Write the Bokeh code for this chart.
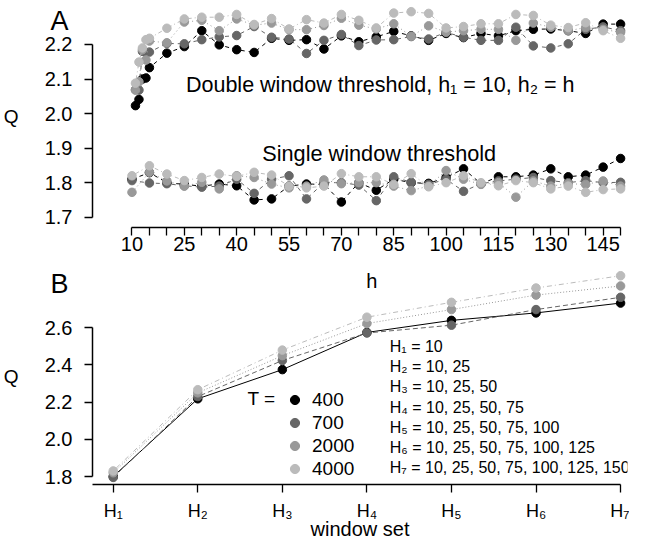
from bokeh.plotting import figure
from bokeh.models import (FixedTicker, Label, Legend, LegendItem, ColumnDataSource,
                          PrintfTickFormatter, LinearAxis)
from bokeh.layouts import column
from bokeh.embed import file_html
from bokeh.resources import INLINE
from bokeh.core.properties import value

FONT = "Liberation Sans"

# ---------------- data ----------------
T_labels = ["400", "700", "2000", "4000"]
series_colors = ["#000000", "#666666", "#999999", "#bbbbbb"]
dashes_A = ["4 4", "4 4", "1 3", "1 3 4 3"]
dashes_B = ["solid", "5 3", "1 2", "1 3 5 3"]

# Panel A: single window threshold, h = 10..150
h_single = [10, 15, 20, 25, 30, 35, 40, 45, 50, 55, 60, 65, 70, 75, 80,
            85, 90, 95, 100, 105, 110, 115, 120, 125, 130, 135, 140, 145, 150]
q_single_400 = [1.810, 1.829, 1.800, 1.795, 1.790, 1.796, 1.791, 1.750, 1.753, 1.790,
                1.796, 1.795, 1.744, 1.800, 1.778, 1.810, 1.800, 1.798, 1.815, 1.840,
                1.797, 1.817, 1.817, 1.822, 1.840, 1.817, 1.822, 1.845, 1.870]
q_single_700 = [1.806, 1.799, 1.797, 1.791, 1.787, 1.790, 1.810, 1.769, 1.810, 1.820,
                1.753, 1.800, 1.800, 1.793, 1.748, 1.817, 1.801, 1.795, 1.810, 1.775,
                1.797, 1.805, 1.810, 1.815, 1.806, 1.800, 1.806, 1.800, 1.801]
q_single_2000 = [1.772, 1.830, 1.805, 1.790, 1.801, 1.782, 1.820, 1.815, 1.796, 1.785,
                 1.790, 1.808, 1.797, 1.800, 1.800, 1.790, 1.777, 1.790, 1.835, 1.810,
                 1.795, 1.800, 1.758, 1.805, 1.790, 1.797, 1.795, 1.805, 1.790]
q_single_4000 = [1.820, 1.849, 1.825, 1.806, 1.815, 1.825, 1.818, 1.830, 1.822, 1.790,
                 1.785, 1.790, 1.826, 1.817, 1.817, 1.795, 1.826, 1.788, 1.800, 1.820,
                 1.800, 1.791, 1.806, 1.800, 1.782, 1.790, 1.772, 1.780, 1.782]

# Panel A: double window threshold, h1 = 10, h2 = h
h_double = [11, 12, 13, 14, 15, 20, 25, 30, 35, 40, 45, 50, 55, 60, 65, 70,
            75, 80, 85, 90, 95, 100, 105, 110, 115, 120, 125, 130, 135, 140, 145, 150]
q_double_400 = [2.023, 2.041, 2.100, 2.103, 2.133, 2.175, 2.194, 2.240, 2.199, 2.185,
                2.177, 2.218, 2.212, 2.214, 2.187, 2.225, 2.208, 2.222, 2.238, 2.225,
                2.212, 2.232, 2.220, 2.232, 2.225, 2.240, 2.244, 2.245, 2.240, 2.232,
                2.259, 2.259]
q_double_700 = [2.069, 2.068, 2.180, 2.176, 2.178, 2.203, 2.202, 2.214, 2.222, 2.226,
                2.252, 2.221, 2.216, 2.174, 2.212, 2.229, 2.197, 2.213, 2.214, 2.223,
                2.216, 2.235, 2.221, 2.212, 2.212, 2.250, 2.196, 2.190, 2.202, 2.244,
                2.251, 2.240]
q_double_2000 = [2.068, 2.092, 2.185, 2.155, 2.210, 2.205, 2.265, 2.270, 2.240, 2.274,
                 2.256, 2.262, 2.243, 2.243, 2.255, 2.276, 2.256, 2.245, 2.260, 2.224,
                 2.254, 2.236, 2.240, 2.244, 2.244, 2.212, 2.262, 2.250, 2.240, 2.249,
                 2.244, 2.235]
q_double_4000 = [2.088, 2.149, 2.190, 2.214, 2.218, 2.247, 2.274, 2.279, 2.279, 2.287,
                 2.258, 2.275, 2.245, 2.272, 2.262, 2.287, 2.270, 2.248, 2.291, 2.295,
                 2.290, 2.248, 2.252, 2.260, 2.260, 2.287, 2.284, 2.256, 2.249, 2.263,
                 2.240, 2.218]

h_ticks = [10, 15, 20, 25, 30, 35, 40, 45, 50, 55, 60, 65, 70, 75, 80,
           85, 90, 95, 100, 105, 110, 115, 120, 125, 130, 135, 140, 145, 150]
h_labelled = [10, 25, 40, 55, 70, 85, 100, 115, 130, 145]
qA_ticks = [1.7, 1.8, 1.9, 2.0, 2.1, 2.2]

# Panel B: window sets
window_sets = [1, 2, 3, 4, 5, 6, 7]
window_set_labels = ["H₁", "H₂", "H₃", "H₄", "H₅", "H₆", "H₇"]
window_set_defs = ["H₁ = 10",
                   "H₂ = 10, 25",
                   "H₃ = 10, 25, 50",
                   "H₄ = 10, 25, 50, 75",
                   "H₅ = 10, 25, 50, 75, 100",
                   "H₆ = 10, 25, 50, 75, 100, 125",
                   "H₇ = 10, 25, 50, 75, 100, 125, 150"]
q_set_400 = [1.800, 2.218, 2.375, 2.575, 2.640, 2.680, 2.733]
q_set_700 = [1.795, 2.230, 2.424, 2.572, 2.614, 2.698, 2.764]
q_set_2000 = [1.820, 2.250, 2.450, 2.623, 2.698, 2.776, 2.825]
q_set_4000 = [1.830, 2.267, 2.480, 2.657, 2.737, 2.814, 2.880]
qB_ticks = [1.8, 2.0, 2.2, 2.4, 2.6]

q_single = [q_single_400, q_single_700, q_single_2000, q_single_4000]
q_double = [q_double_400, q_double_700, q_double_2000, q_double_4000]
q_sets = [q_set_400, q_set_700, q_set_2000, q_set_4000]


def style_axis(ax, width=1.3):
    ax.axis_line_color = "black"
    ax.axis_line_width = width
    ax.major_tick_line_color = "black"
    ax.major_tick_line_width = width
    ax.major_tick_out = 8
    ax.major_tick_in = 0
    ax.minor_tick_line_color = None
    ax.minor_tick_out = 0
    ax.minor_tick_in = 0
    ax.major_label_text_font = FONT
    ax.major_label_text_font_size = "20px"
    ax.major_label_text_color = "black"
    ax.axis_label_text_font = FONT
    ax.axis_label_text_font_style = "normal"
    ax.axis_label_text_color = "black"


def make_plot(width, height, x_range, y_range, border):
    left, right, top, bottom = border
    p = figure(width=width, height=height, x_range=x_range, y_range=y_range,
               output_backend="svg", toolbar_location=None,
               x_axis_location=None, y_axis_location=None,
               min_border_left=left, min_border_right=right,
               min_border_top=top, min_border_bottom=bottom)
    p.outline_line_color = None
    p.grid.grid_line_color = None
    p.background_fill_color = None
    p.border_fill_color = "white"
    return p


def add_y_axes(p, ticks, letter_y, letter):
    # real y axis (next to the plotting area), line limited to the tick span
    yax = LinearAxis(ticker=FixedTicker(ticks=ticks),
                     formatter=PrintfTickFormatter(format="%.1f"),
                     bounds=(ticks[0], ticks[-1]), major_label_standoff=12)
    style_axis(yax, 1.5)
    p.add_layout(yax, "left")
    # outer axis carrying the panel letter (as tick label) and the 'Q' title
    ax = LinearAxis(ticker=FixedTicker(ticks=[letter_y]),
                    major_label_overrides={letter_y: letter},
                    axis_line_color=None, major_tick_line_color=None,
                    minor_tick_line_color=None, major_tick_out=0, major_tick_in=0,
                    minor_tick_out=0, minor_tick_in=0,
                    major_label_standoff=-27, major_label_text_font=FONT,
                    major_label_text_font_size="27px", major_label_text_color="black",
                    axis_label="Q", axis_label_standoff=29, axis_label_text_font=FONT,
                    axis_label_text_font_size="19px", axis_label_text_font_style="normal",
                    axis_label_text_color="black")
    try:
        ax.axis_label_orientation = "horizontal"
    except Exception:
        pass
    p.add_layout(ax, "left")
    return yax


def add_label(p, x, y, text, size, align="center", baseline="middle"):
    p.add_layout(Label(x=x, y=y, text=text, text_font=FONT, text_font_size=size,
                       text_align=align, text_baseline=baseline, text_color="black"))


# ---------------- panel A ----------------
pA = make_plot(629, 268, (-1.313, 151.98), (1.6702, 2.3158), (85, 2, 4, 41))
xaxA = LinearAxis(ticker=FixedTicker(ticks=h_ticks),
                  major_label_overrides={t: (str(t) if t in h_labelled else "") for t in h_ticks},
                  bounds=(h_ticks[0], h_ticks[-1]), major_label_standoff=1)
style_axis(xaxA)
pA.add_layout(xaxA, "below")
add_y_axes(pA, qA_ticks, 2.301, "A")

for i in range(4):
    c = series_colors[i]
    pA.line(h_double, q_double[i], line_color=c, line_width=1, line_dash=dashes_A[i])
    pA.scatter(h_double, q_double[i], size=8.5, color=c)
    pA.line(h_single, q_single[i], line_color=c, line_width=1, line_dash=dashes_A[i])
    pA.scatter(h_single, q_single[i], size=8.5, color=c)

add_label(pA, 25.47, 2.0831, "Double window threshold, h₁ = 10, h₂ = h", "21.5px",
          align="left", baseline="alphabetic")
add_label(pA, 47.33, 1.8844, "Single window threshold", "21.7px",
          align="left", baseline="alphabetic")

# ---------------- panel B ----------------
pB = make_plot(629, 275, (0.7549, 7.0817), (1.757, 2.919), (85, 2, 0, 59))
xaxB = LinearAxis(ticker=FixedTicker(ticks=window_sets),
                  major_label_overrides={w: lab for w, lab in zip(window_sets, window_set_labels)},
                  bounds=(0.7549, window_sets[-1]), major_label_standoff=8)
style_axis(xaxB)
xaxB.major_label_text_font_size = "18px"
xaxB.axis_label = "window set"
xaxB.axis_label_standoff = -6
xaxB.axis_label_text_font_size = "20px"
pB.add_layout(xaxB, "below")
add_y_axes(pB, qB_ticks, 2.841, "B")

items = []
for i in range(4):
    c = series_colors[i]
    pB.line(window_sets, q_sets[i], line_color=c, line_width=1, line_dash=dashes_B[i])
    r = pB.scatter(window_sets, q_sets[i], size=8.5, color=c)
    items.append(LegendItem(label=T_labels[i], renderers=[r]))

legend = Legend(items=items, location=(191, 4), orientation="vertical",
                glyph_width=23, glyph_height=23, label_standoff=6, spacing=0,
                padding=0, margin=0, border_line_color=None, background_fill_alpha=0,
                label_text_font=FONT, label_text_font_size="19px",
                label_text_color="black", label_height=23)
pB.add_layout(legend)

add_label(pB, 2.5876, 2.2197, "T =", "19px", align="left")

defs_src = ColumnDataSource(dict(
    x=[4.27] * len(window_set_defs),
    y=[2.4994 - 0.10866 * k for k in range(len(window_set_defs))],
    t=window_set_defs))
pB.text(x="x", y="y", text="t", source=defs_src, text_font=value(FONT),
        text_font_size="16px", text_align="left", text_baseline="middle",
        text_color="black")

# x-axis title of panel A (sits just above panel B's plotting area)
add_label(pB, 4.058, 2.8518, "h", "20px")

layout = column(pA, pB, spacing=0)
open("out.html", "w").write(file_html(layout, INLINE))
